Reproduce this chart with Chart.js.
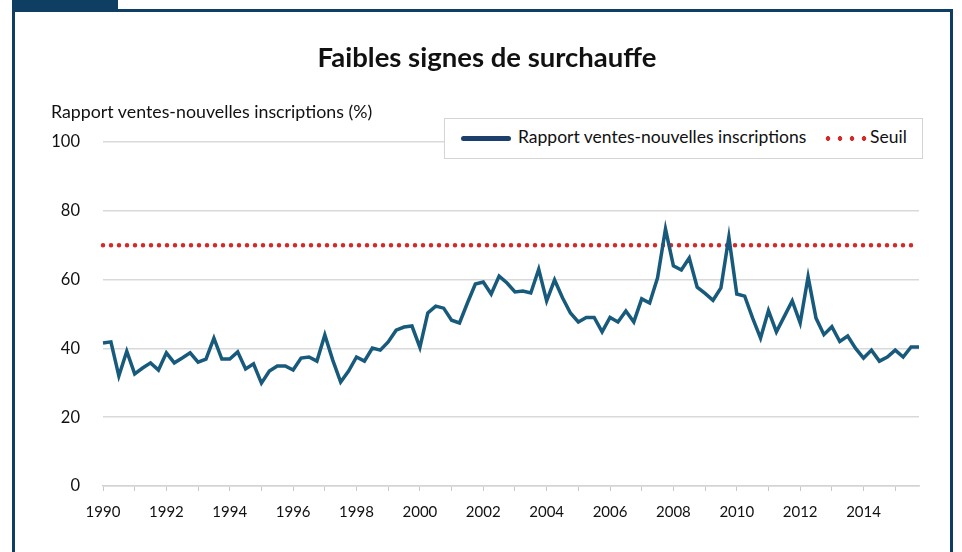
<!DOCTYPE html>
<html lang="fr">
<head>
  <meta charset="UTF-8">
  <title>Faibles signes de surchauffe</title>
  <script src="https://cdn.jsdelivr.net/npm/chart.js@4.4.1/dist/chart.umd.min.js"></script>
  <style>
    body {
      margin: 0;
      background: #fff;
      font-family: Lato, sans-serif;
      color: #111;
    }
    #wrap {
      position: relative;
      width: 962px;
      height: 552px;
      overflow: hidden;
    }
    #tab {
      position: absolute;
      left: 12px; top: 0;
      width: 106px; height: 10px;
      background: #0e3f63;
    }
    #frame {
      position: absolute;
      left: 12px; top: 9px;
      width: 935px; height: 600px;
      border: 3px solid #0e3f63;
      border-bottom: none;
    }
    canvas {
      position: absolute;
      left: 0; top: 0;
    }
    #title {
      position: absolute;
      left: 0; width: 974px; top: 40px;
      text-align: center;
      font-size: 27.5px;
      font-weight: bold;
    }
    #ytitle {
      position: absolute;
      left: 51px; top: 100px;
      font-size: 17.8px;
    }
    #legend {
      position: absolute;
      left: 444px; top: 118px;
      width: 477px; height: 39px;
      background: #fff;
      border: 1px solid #d4d4d4;
      font-size: 17.5px;
    }
    #legend .line {
      position: absolute;
      left: 16px; top: 17px;
      width: 50px; height: 5px;
      border-radius: 3px;
      background: #1d3f6d;
    }
    #legend .dots {
      position: absolute;
      left: 377px; top: 17px;
      width: 48px; height: 5px;
      background: radial-gradient(circle, #d62a2a 2.1px, transparent 2.6px) 0 0 / 12px 5px repeat-x;
    }
    #legend span {
      position: absolute;
      top: 7px;
    }
  </style>
</head>
<body>
  <div id="wrap">
    <div id="tab"></div>
    <div id="frame"></div>
    <canvas id="chart" width="962" height="552"></canvas>
    <div id="title">Faibles signes de surchauffe</div>
    <div id="ytitle">Rapport ventes-nouvelles inscriptions (%)</div>
    <div id="legend">
      <div class="line"></div>
      <span style="left:73px">Rapport ventes-nouvelles inscriptions</span>
      <div class="dots"></div>
      <span style="left:425px">Seuil</span>
    </div>
  </div>

  <script>
    // quarterly data, 1990 Q1 to 2015 Q4
    const years = [];
    for (let y = 1990; y <= 2015; y++) years.push(y);

    const ratio = [
      41.6, 41.9, 32.0, 39.2,   // 1990
      32.6, 34.3, 35.8, 33.7,   // 1991
      38.7, 35.8, 37.2, 38.7,   // 1992
      36.0, 36.9, 43.0, 36.9,   // 1993
      36.9, 39.0, 34.0, 35.5,   // 1994
      29.9, 33.4, 34.9, 34.9,   // 1995
      33.7, 37.2, 37.5, 36.3,   // 1996
      43.9, 36.6, 30.2, 33.4,   // 1997
      37.5, 36.3, 40.1, 39.5,   // 1998
      41.9, 45.3, 46.2, 46.5,   // 1999
      40.3, 50.3, 52.3, 51.7,   // 2000
      48.2, 47.4, 53.2, 58.7,   // 2001
      59.3, 55.8, 61.0, 59.0,   // 2002
      56.4, 56.7, 56.1, 63.0,   // 2003
      53.8, 59.9, 54.7, 50.3,   // 2004
      47.7, 49.0, 49.0, 44.8,   // 2005
      49.0, 47.7, 50.9, 47.7,   // 2006
      54.4, 53.2, 60.5, 74.7,   // 2007
      64.0, 62.8, 66.3, 57.8,   // 2008
      56.0, 54.0, 57.6, 72.4,   // 2009
      55.8, 55.2, 48.8, 43.0,   // 2010
      51.0, 44.8, 49.3, 53.8,   // 2011
      47.4, 60.8, 48.8, 44.0,   // 2012
      46.3, 42.0, 43.6, 40.0,   // 2013
      37.2, 39.5, 36.3, 37.5,   // 2014
      39.5, 37.5, 40.4, 40.4    // 2015
    ];
    const threshold = 70;

    const labels = [];
    years.forEach(y => { for (let q = 1; q <= 4; q++) labels.push(y + ' T' + q); });
    const seuil = labels.map(() => threshold);

    const ctx = document.getElementById('chart').getContext('2d');
    new Chart(ctx, {
      type: 'line',
      data: {
        labels: labels,
        datasets: [
          {
            label: 'Rapport ventes-nouvelles inscriptions',
            data: ratio,
            borderColor: '#175a7c',
            borderWidth: 3.5,
            pointRadius: 0,
            tension: 0,
            clip: false
          },
          {
            label: 'Seuil',
            data: seuil,
            borderColor: '#d62a2a',
            borderWidth: 4.5,
            borderDash: [0, 8],
            borderCapStyle: 'round',
            pointRadius: 0,
            clip: false
          }
        ]
      },
      options: {
        responsive: false,
        animation: false,
        layout: { padding: { left: 0, right: 43, top: 142, bottom: 0 } },
        plugins: {
          legend: { display: false },
          tooltip: { enabled: false }
        },
        scales: {
          x: {
            afterFit: s => { s.height = 66; },
            grid: {
              drawOnChartArea: false,
              tickLength: 5,
              tickColor: c => (c.index % 4 === 0 ? '#c8c8c8' : 'rgba(0,0,0,0)')
            },
            border: { display: true, color: '#d4d4d4', width: 1.5 },
            ticks: {
              autoSkip: false,
              maxRotation: 0,
              padding: 12,
              color: '#111',
              font: { family: 'Lato', size: 15 },
              callback: (v, i) => (i % 8 === 0 ? String(years[i / 4]) : '')
            }
          },
          y: {
            min: 0,
            max: 100,
            afterFit: s => { s.width = 103; },
            grid: { color: '#d9d9d9', lineWidth: 1.5, drawTicks: false },
            border: { display: false },
            ticks: {
              stepSize: 20,
              padding: 23,
              color: '#111',
              font: { family: 'Lato', size: 16.5 }
            }
          }
        }
      }
    });
  </script>
</body>
</html>
